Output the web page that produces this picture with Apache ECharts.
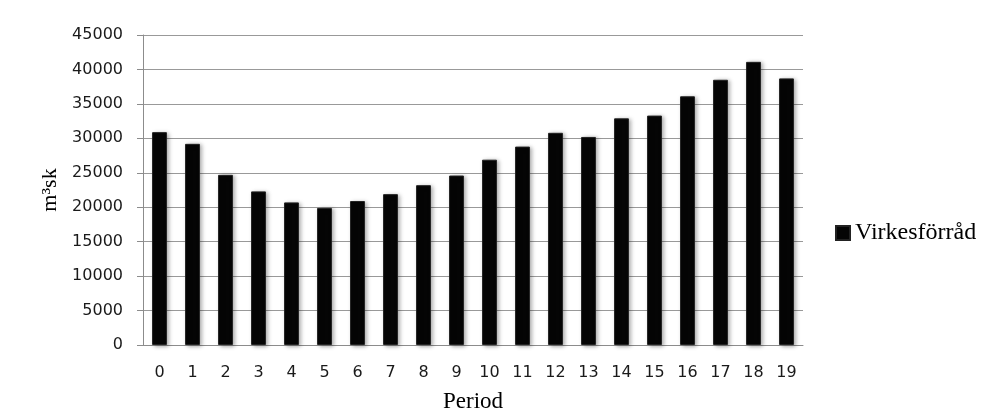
<!DOCTYPE html>
<html>
<head>
<meta charset="utf-8">
<script src="https://cdn.jsdelivr.net/npm/echarts@6/dist/echarts.min.js"></script>
<style>
html,body{margin:0;padding:0;background:#fff;}
#chart{width:981px;height:415px;}
</style>
</head>
<body>
<div id="chart"></div>
<script>
const categories = ['0','1','2','3','4','5','6','7','8','9','10','11','12','13','14','15','16','17','18','19'];
const seriesName = 'Virkesförråd';
const values = [30900, 29200, 24700, 22300, 20700, 19900, 20900, 21900, 23200, 24600, 26900, 28800, 30800, 30200, 32900, 33300, 36100, 38500, 41100, 38700];
const yTicks = {min: 0, max: 45000, interval: 5000};

const chart = echarts.init(document.getElementById('chart'));
chart.setOption({
  animation: false,
  backgroundColor: '#fff',
  grid: {left: 143, right: 178, top: 35, bottom: 70, outerBoundsMode: 'none', containLabel: false},
  legend: {
    data: [seriesName],
    left: 830, top: 216,
    icon: 'rect', itemWidth: 14, itemHeight: 14, itemGap: 4,
    textStyle: {fontFamily: 'Liberation Serif', fontSize: 24, color: '#000'}
  },
  xAxis: {
    type: 'category',
    data: categories,
    name: 'Period',
    nameLocation: 'middle',
    nameGap: 45,
    nameTextStyle: {fontFamily: 'Liberation Serif', fontSize: 23, color: '#000'},
    axisLine: {lineStyle: {color: '#8c8c8c'}},
    axisTick: {show: false},
    axisLabel: {fontFamily: 'DejaVu Sans', fontSize: 16, color: '#1a1a1a', margin: 20}
  },
  yAxis: {
    type: 'value',
    min: yTicks.min, max: yTicks.max, interval: yTicks.interval,
    name: 'm³sk',
    nameLocation: 'middle',
    nameGap: 78,
    nameRotate: 90,
    nameTextStyle: {fontFamily: 'Liberation Serif', fontSize: 22, color: '#000'},
    axisLine: {show: true, lineStyle: {color: '#8c8c8c'}},
    axisTick: {show: true, length: 6, lineStyle: {color: '#8c8c8c'}},
    axisLabel: {fontFamily: 'DejaVu Sans', fontSize: 16, color: '#1a1a1a', margin: 20, formatter: v => String(v)},
    splitLine: {lineStyle: {color: '#999', width: 1}}
  },
  series: [{
    name: seriesName,
    type: 'bar',
    data: values,
    barWidth: '45%',
    itemStyle: {
      color: '#050505',
      borderColor: '#222',
      borderWidth: 1,
      shadowColor: 'rgba(0,0,0,0.35)',
      shadowBlur: 4,
      shadowOffsetX: 2,
      shadowOffsetY: 1
    }
  }]
});
</script>
</body>
</html>
